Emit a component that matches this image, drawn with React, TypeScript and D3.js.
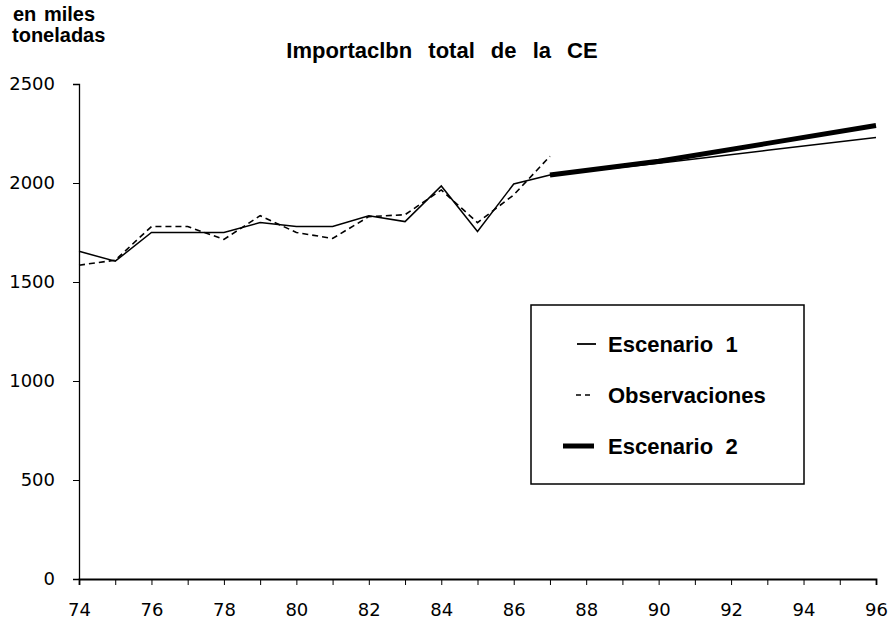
import React, { useEffect, useRef } from "react";
import * as d3 from "d3";

// years (two digits) and series values, in miles toneladas
const yearsHist = [74, 75, 76, 77, 78, 79, 80, 81, 82, 83, 84, 85, 86, 87];
const escenario1Hist = [1655, 1605, 1750, 1750, 1750, 1800, 1780, 1780, 1835, 1805, 1985, 1755, 1995, 2040];
const observaciones = [1585, 1610, 1780, 1780, 1715, 1835, 1750, 1720, 1830, 1840, 1965, 1800, 1940, 2135];
const yearsProj = [87, 90, 93, 96];
const escenario1Proj = [2040, 2100, 2165, 2230];
const escenario2Proj = [2040, 2110, 2200, 2290];
const xTickLabels = [74, 76, 78, 80, 82, 84, 86, 88, 90, 92, 94, 96];
const yTickLabels = [0, 500, 1000, 1500, 2000, 2500];

const App = () => {
  const ref = useRef<SVGSVGElement>(null);

  useEffect(() => {
    const svg = d3.select(ref.current);
    svg.selectAll("*").remove();

    const x = d3.scaleLinear().domain([74, 96]).range([79, 876]);
    const y = d3.scaleLinear().domain([0, 2500]).range([579, 84]);
    const tickFont = "'DejaVu Sans', Verdana, sans-serif";
    const boldFont = "'Liberation Sans', Arial, sans-serif";

    // y axis
    const yAxis = svg.append("g").attr("transform", `translate(${x(74)},0)`)
      .call(d3.axisLeft(y).tickValues(yTickLabels).tickSize(6).tickPadding(18).tickFormat(d => String(d)));
    yAxis.select(".domain").attr("stroke", "#000").attr("stroke-width", 1.3);
    yAxis.selectAll("text").style("font-family", tickFont).style("font-size", "18px").attr("fill", "#000");

    // x axis
    const xAxis = svg.append("g").attr("transform", `translate(0,${y(0)})`)
      .call(d3.axisBottom(x).tickValues(d3.range(74, 97)).tickSize(6).tickPadding(18)
        .tickFormat(d => (xTickLabels.includes(+d) ? String(d) : "")));
    xAxis.select(".domain").attr("stroke", "#000").attr("stroke-width", 1.8);
    xAxis.selectAll("text").style("font-family", tickFont).style("font-size", "18px").attr("fill", "#000");

    const line = d3.line<[number, number]>().x(d => x(d[0])).y(d => y(d[1]));

    svg.append("path")
      .attr("d", line(yearsProj.map((yr, i) => [yr, escenario2Proj[i]])))
      .attr("fill", "none").attr("stroke", "#000").attr("stroke-width", 5);

    svg.append("path")
      .attr("d", line(yearsHist.map((yr, i) => [yr, observaciones[i]])))
      .attr("fill", "none").attr("stroke", "#000").attr("stroke-width", 1.6)
      .attr("stroke-dasharray", "6,4");

    svg.append("path")
      .attr("d", line(yearsHist.map((yr, i) => [yr, escenario1Hist[i]])
        .concat(yearsProj.slice(1).map((yr, i) => [yr, escenario1Proj[i + 1]]) as [number, number][])))
      .attr("fill", "none").attr("stroke", "#000").attr("stroke-width", 1.5);

    // titles
    svg.append("text").attr("x", 442).attr("y", 58).attr("text-anchor", "middle")
      .style("font-family", boldFont).style("font-size", "22px").style("font-weight", "bold")
      .style("word-spacing", "10px").text("Importaclbn total de la CE");
    svg.append("text").attr("x", 13).attr("y", 21)
      .style("font-family", boldFont).style("font-size", "20px").style("font-weight", "bold")
      .style("word-spacing", "2px").text("en miles");
    svg.append("text").attr("x", 12).attr("y", 42)
      .style("font-family", boldFont).style("font-size", "20px").style("font-weight", "bold")
      .text("toneladas");

    // legend
    const lg = svg.append("g");
    lg.append("rect").attr("x", 531).attr("y", 305).attr("width", 273).attr("height", 179)
      .attr("fill", "#fff").attr("stroke", "#000").attr("stroke-width", 1.5);
    const items = [
      { label: "Escenario  1", y: 344, dash: null, w: 1.8, x0: 577, x1: 596 },
      { label: "Observaciones", y: 395, dash: "5,4", w: 1.6, x0: 576, x1: 590 },
      { label: "Escenario  2", y: 446, dash: null, w: 5, x0: 563, x1: 594 },
    ];
    items.forEach(it => {
      const l = lg.append("line").attr("x1", it.x0).attr("x2", it.x1).attr("y1", it.y).attr("y2", it.y)
        .attr("stroke", "#000").attr("stroke-width", it.w);
      if (it.dash) l.attr("stroke-dasharray", it.dash);
      lg.append("text").attr("x", 608).attr("y", it.y + 8)
        .style("font-family", boldFont).style("font-size", "22px").style("font-weight", "bold")
        .style("white-space", "pre").text(it.label);
    });
  }, []);

  return (
    <svg ref={ref} width={892} height={627}
      style={{ position: "absolute", left: 0, top: 0, background: "#fff" }} />
  );
};

export default App;
